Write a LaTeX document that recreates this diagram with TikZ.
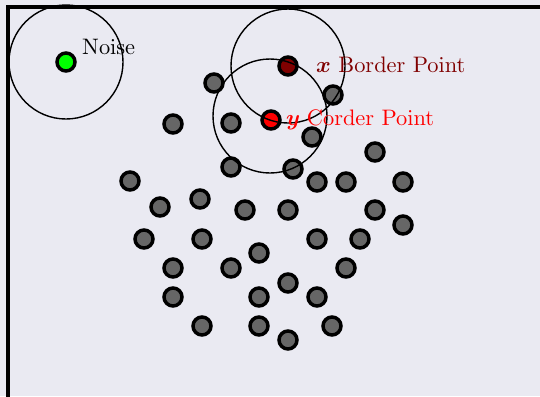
\documentclass[tikz,border=0pt]{standalone}
\definecolor{lav}{HTML}{EAEAF2}
\definecolor{ptgray}{HTML}{666666}
\definecolor{darkred}{HTML}{800000}
\definecolor{noisegreen}{HTML}{00FF00}
% 10pt design sizes scaled up for the labels
\font\lblrm=cmr10 at 22.4bp
\font\lblmib=cmmib10 at 22.4bp
\begin{document}
\begin{tikzpicture}[x=1bp,y=-1bp,
  pt/.style={circle,draw=black,line width=3.5bp,minimum size=18bp,inner sep=0pt,fill=ptgray},
  reach/.style={draw=black,line width=1.4bp},
  lbl/.style={anchor=base west,inner sep=0pt,font=\lblrm}]
\useasboundingbox (0,0) rectangle (540,396);
\fill[lav] (0,0) rectangle (540,396);
\begin{scope}
  \clip (0,0) rectangle (540,396);
  \draw[line width=4bp] (8.3,7) rectangle (560,398.5);
\end{scope}
% core points of the cluster
\foreach \px/\py [count=\i] in {
  214/83, 173/124, 231/123, 333/95, 312/137, 231/167, 293/169, 375/152,
  130/181, 317/182, 346/182, 403/182, 160/207, 200/199, 245/210, 288/210,
  375/210, 403/225, 144/239, 202/239, 317/239, 360/239, 259/253, 173/268,
  231/268, 346/268, 288/283, 173/297, 259/297, 317/297, 202/326, 259/326,
  332/326, 288/340}
  \node[pt] (p\i) at (\px,\py) {};
% special points
\node[pt,fill=noisegreen] (noise) at (66,62) {};
\node[pt,fill=darkred] (bx) at (288,66) {};
\node[pt,fill=red] (cy) at (271,120) {};
\coordinate (cyc) at (270,116);
% eps-neighbourhoods
\draw[reach] (noise) circle[radius=57bp];
\draw[reach] (bx) circle[radius=57bp];
\draw[reach] (cyc) circle[radius=57bp];
% labels
\node[lbl] (nlab) at (82,54) {Noise};
\node[lbl,text=darkred] (xlab) at (316,72) {{\lblmib x} Border Point};
\node[lbl,text=red] (ylab) at (286,125) {{\lblmib y} Corder Point};
\end{tikzpicture}
\end{document}
